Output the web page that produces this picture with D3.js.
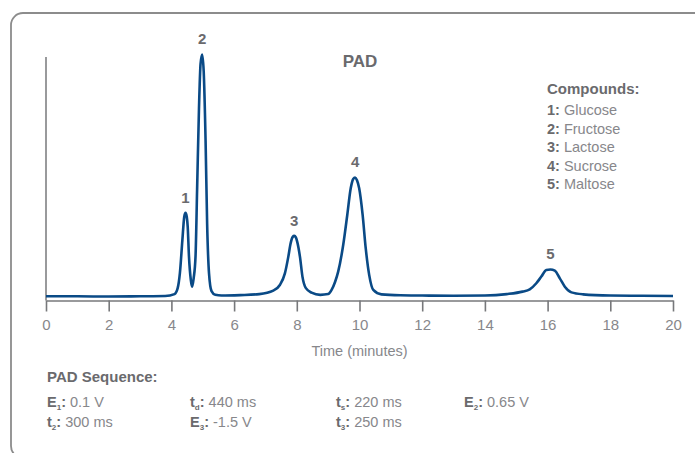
<!DOCTYPE html>
<html>
<head>
<meta charset="utf-8">
<script src="https://cdn.jsdelivr.net/npm/d3@7"></script>
<style>
  body { margin: 0; background: #fff; }
  text { font-family: "Liberation Sans", Arial, sans-serif; }
</style>
</head>
<body>
<div id="chart"></div>
<script>
// retention time (minutes) and detector signal (% of largest peak)
const timeMin = [0, 1, 2, 3, 3.8, 4.1, 4.2, 4.27, 4.35, 4.41, 4.45, 4.49, 4.52, 4.56, 4.62, 4.66,
  4.71, 4.77, 4.82, 4.88, 4.93, 4.98, 5.03, 5.09, 5.14, 5.2, 5.28, 5.4, 5.6, 6.2, 6.8, 7.25,
  7.46, 7.62, 7.73, 7.8, 7.87, 7.92, 7.97, 8.01, 8.1, 8.18, 8.29, 8.47, 8.75, 9.0, 9.11, 9.22,
  9.32, 9.48, 9.61, 9.72, 9.8, 9.86, 9.92, 9.99, 10.1, 10.2, 10.31, 10.44, 10.7, 11.3, 12, 13,
  14, 14.7, 15.2, 15.43, 15.64, 15.8, 15.96, 16.09, 16.23, 16.39, 16.55, 16.76, 17.13, 18, 19, 20];
const signal = [1.7, 1.7, 1.6, 1.7, 1.8, 2.6, 5, 11, 24.5, 34, 35.6, 34, 30, 18, 8.3, 5.6,
  9, 18, 45, 78, 96, 99.8, 93, 65, 31, 11, 3.8, 2.3, 2.0, 2.2, 2.6, 4.0,
  6.3, 11, 17.8, 23, 25.8, 26.2, 25.6, 24, 17.8, 9.7, 5, 3.2, 2.3, 2.6, 4.3, 7.5,
  11.7, 22.5, 34.7, 45.5, 49.3, 49.9, 48.8, 45.5, 34.7, 21, 10.3, 4.3, 2.5, 2.1, 2.0, 1.9,
  2.0, 2.6, 3.6, 4.5, 7, 9.7, 12.4, 12.6, 12.1, 9, 5.6, 3.3, 2.5, 2.0, 1.9, 1.8];

const peakLabels = ["1", "2", "3", "4", "5"];
const peakTimes = [4.45, 4.98, 7.92, 9.86, 16.09];
const peakHeights = [35.6, 99.8, 26.2, 49.9, 12.6];
const compounds = ["Glucose", "Fructose", "Lactose", "Sucrose", "Maltose"];
const xTicks = [0, 2, 4, 6, 8, 10, 12, 14, 16, 18, 20];

// PAD waveform: [symbol, subscript, value] per row
const padRow1 = [["E", "1", " 0.1 V"], ["t", "d", "440 ms"], ["t", "s", "220 ms"], ["E", "2", "0.65 V"]];
const padRow2 = [["t", "2", "300 ms"], ["E", "3", " -1.5 V"], ["t", "3", "250 ms"]];

const width = 695, height = 453;
const svg = d3.select("#chart").append("svg")
  .attr("width", width)
  .attr("height", height);

// frame (right and bottom edges run off the picture)
svg.append("rect")
  .attr("x", 11).attr("y", 13)
  .attr("width", 720).attr("height", 445)
  .attr("rx", 12)
  .attr("fill", "none")
  .attr("stroke", "#8c8c8c")
  .attr("stroke-width", 1.8);

const x = d3.scaleLinear().domain([0, 20]).range([46, 673]);
const y = d3.scaleLinear().domain([0, 100]).range([300.5, 54]);

const labelColor = "#6a6a6d";
const valueColor = "#87878b";

// x axis
const xAxis = svg.append("g")
  .attr("transform", `translate(0,${y(0)})`)
  .call(d3.axisBottom(x).tickValues(xTicks).tickSize(11).tickSizeOuter(0).tickPadding(8));
xAxis.select(".domain").attr("stroke", "#77787b").attr("stroke-width", 1.6);
xAxis.selectAll(".tick line").attr("stroke", "#77787b").attr("stroke-width", 1.6);
xAxis.selectAll(".tick text")
  .attr("fill", valueColor)
  .style("font-size", "15px")
  .style("font-family", "'Liberation Sans', Arial, sans-serif");

// y axis, plain line
svg.append("line")
  .attr("x1", x(0)).attr("x2", x(0))
  .attr("y1", y(0)).attr("y2", y(98.8))
  .attr("stroke", "#77787b")
  .attr("stroke-width", 1.5);

svg.append("text")
  .attr("x", (x(0) + x(20)) / 2)
  .attr("y", 356)
  .attr("text-anchor", "middle")
  .attr("fill", valueColor)
  .style("font-size", "14.5px")
  .text("Time (minutes)");

// trace
const points = timeMin.map((t, i) => [t, signal[i]]);
const line = d3.line()
  .x(d => x(d[0]))
  .y(d => y(d[1]))
  .curve(d3.curveMonotoneX);

svg.append("path")
  .datum(points)
  .attr("d", line)
  .attr("fill", "none")
  .attr("stroke", "#0a4a86")
  .attr("stroke-width", 2.6)
  .attr("stroke-linejoin", "round");

// peak numbers
svg.selectAll(".peak-label")
  .data(peakLabels)
  .enter()
  .append("text")
  .attr("class", "peak-label")
  .attr("x", (d, i) => x(peakTimes[i]))
  .attr("y", (d, i) => y(peakHeights[i]) - 10)
  .attr("text-anchor", "middle")
  .attr("fill", labelColor)
  .style("font-size", "15px")
  .style("font-weight", "bold")
  .text(d => d);

// title
svg.append("text")
  .attr("x", 360).attr("y", 67)
  .attr("text-anchor", "middle")
  .attr("fill", labelColor)
  .style("font-size", "17px")
  .style("font-weight", "bold")
  .text("PAD");

// legend
const legend = svg.append("g").attr("transform", "translate(547,0)");
legend.append("text")
  .attr("y", 93.5)
  .attr("fill", labelColor)
  .style("font-size", "15px")
  .style("font-weight", "bold")
  .text("Compounds:");

compounds.forEach((name, i) => {
  let t = legend.append("text")
    .attr("y", 115 + i * 18.6)
    .style("font-size", "14.5px");
  t.append("tspan").attr("fill", labelColor).style("font-weight", "bold").text(peakLabels[i] + ":");
  t.append("tspan").attr("fill", valueColor).text(" " + name);
});

// PAD sequence block
svg.append("text")
  .attr("x", 47).attr("y", 381.5)
  .attr("fill", labelColor)
  .style("font-size", "15px")
  .style("font-weight", "bold")
  .text("PAD Sequence:");

const colX = [47, 190, 336, 464];

function padItem(item, col, baseY) {
  let t = svg.append("text")
    .attr("x", colX[col])
    .attr("y", baseY)
    .style("font-size", "14.5px");
  t.append("tspan").attr("fill", labelColor).style("font-weight", "bold").text(item[0]);
  t.append("tspan").attr("fill", labelColor).style("font-weight", "bold")
    .style("font-size", "8px").attr("dy", 3).text(item[1]);
  t.append("tspan").attr("fill", labelColor).style("font-weight", "bold").attr("dy", -3).text(":");
  t.append("tspan").attr("fill", valueColor).text(" " + item[2]);
}

padRow1.forEach((item, i) => padItem(item, i, 406.5));
padRow2.forEach((item, i) => padItem(item, i, 427));
</script>
</body>
</html>
